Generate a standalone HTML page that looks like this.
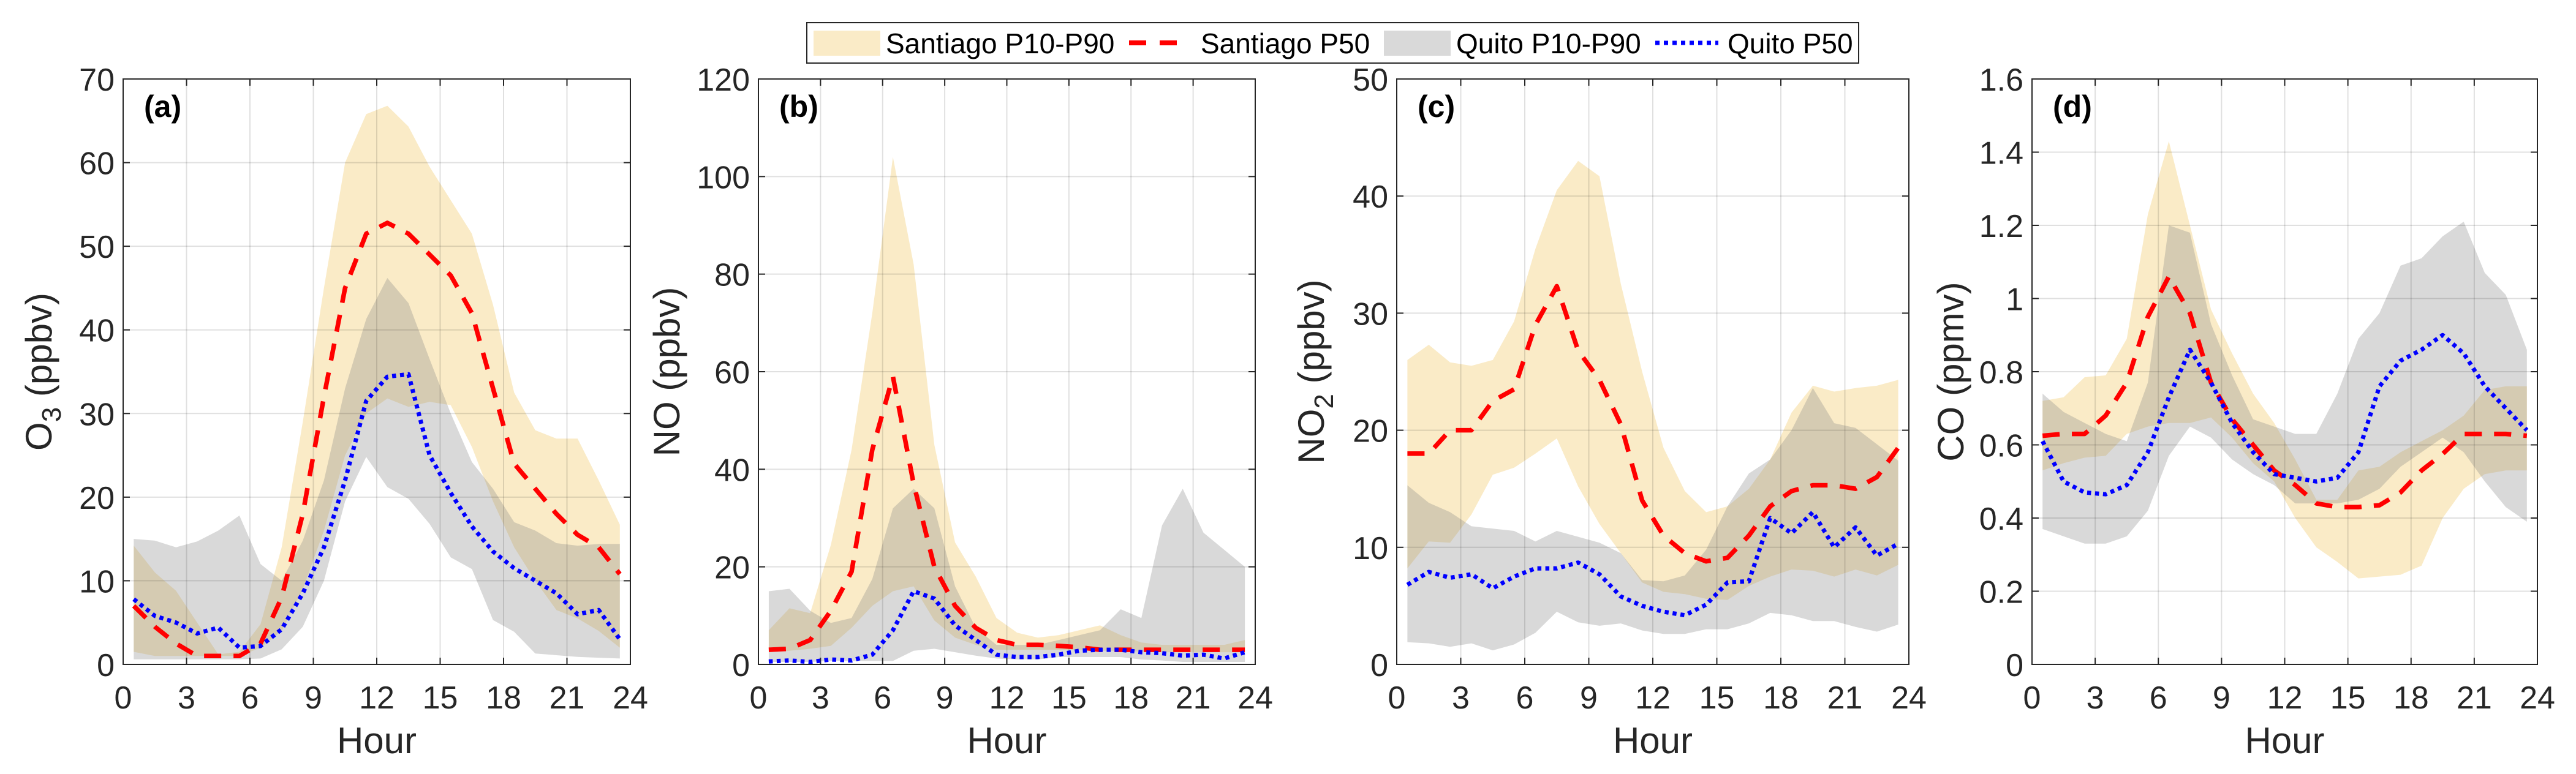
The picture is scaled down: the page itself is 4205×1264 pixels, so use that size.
<!DOCTYPE html>
<html><head><meta charset="utf-8">
<style>
html,body{margin:0;padding:0;background:#fff;}
svg{display:block;font-family:"Liberation Sans",Arial,sans-serif;}
</style></head>
<body>
<svg id="chart" width="4205" height="1264" viewBox="0 0 4205 1264" xmlns="http://www.w3.org/2000/svg">
<rect x="0" y="0" width="4205" height="1264" fill="#ffffff"/>
<g id="legend">
  <rect x="1317" y="37" width="1717" height="66" fill="#fff" stroke="#262626" stroke-width="2"/>
  <g>
    <rect x="1328" y="50" width="109" height="41" fill="#EDB120" fill-opacity="0.25"/>
    <text x="1446" y="87" font-size="46" fill="#000">Santiago P10-P90</text>
  </g>
  <g>
    <line x1="1843" y1="70" x2="1927" y2="70" stroke="#ff0000" stroke-width="8" stroke-dasharray="28,22"/>
    <text x="1960" y="87" font-size="46" fill="#000">Santiago P50</text>
  </g>
  <g>
    <rect x="2259" y="50" width="109" height="41" fill="#808080" fill-opacity="0.3"/>
    <text x="2377" y="87" font-size="46" fill="#000">Quito P10-P90</text>
  </g>
  <g>
    <line x1="2702" y1="70" x2="2805" y2="70" stroke="#0000ff" stroke-width="7" stroke-dasharray="7,7"/>
    <text x="2820" y="87" font-size="46" fill="#000">Quito P50</text>
  </g>
</g>
</svg>
<script>
// Hours (x categories)
const hours = [0.5,1.5,2.5,3.5,4.5,5.5,6.5,7.5,8.5,9.5,10.5,11.5,12.5,13.5,14.5,15.5,16.5,17.5,18.5,19.5,20.5,21.5,22.5,23.5];
const xTicks = [0,3,6,9,12,15,18,21,24];

// Panel (a) O3
const o3SantP90 = [14.2,11,8.8,5,1.2,1.5,4.8,14,29,45,60,65.8,66.8,64.3,59.5,55.5,51.5,43,32.5,28,27,27,22,16.7];
const o3SantP10 = [1.5,1,1,1,1,1,2,4,9,16,25,30,31.8,30.8,31.4,31,26,19.5,14,10,6.5,5.5,4,2];
const o3SantP50 = [7,4.5,2.5,1,1,1,2.5,8,18,32,45,51.5,52.8,51.5,49,46.5,42,33,24,21,18,15.5,14,10.8];
const o3QuitoP90 = [15,14.8,14,14.7,16,17.8,12,10,14.8,22,33,41.3,46.2,43.2,36.5,30,24.2,21,17,16,14.5,14.2,14.4,14.4];
const o3QuitoP10 = [0.6,0.6,0.6,0.6,0.6,0.6,0.7,1.8,4.5,10,19.5,24.8,21.2,19.8,16.8,12.8,11.4,5.3,3.9,1.3,1.1,0.9,0.8,0.7];
const o3QuitoP50 = [7.8,5.8,5,3.7,4.4,2,2.2,4.2,8.5,14,22,31.5,34.4,34.7,25,20.5,16.5,13.5,11.5,10,8.5,6,6.5,3];
const o3YTicks = [0,10,20,30,40,50,60,70];

// Panel (b) NO
const noSantP90 = [7,11.5,10.5,24.5,44,72,104,82,45,25,18,9.5,6.5,5.5,6,7,8,6,4.5,4,4,4,4,5];
const noSantP10 = [2.5,2.8,3.2,3.8,7.5,12,15,16,9,5.5,4,3,3,3,3,3,2.8,2.8,2.6,2.5,2.5,2.5,2.5,2.5];
const noSantP50 = [3,3.2,5,11,19,44,59,37,20,12,7.5,5,4,4,3.8,3.5,3,3,3,3,3,3,3,3];
const noQuitoP90 = [15,15.5,11,8.5,9.5,17.5,32,36,32,16,7.5,4,4,4,5,6,7,11.3,9.5,28.5,36,27,23.5,20];
const noQuitoP10 = [0.5,0.5,0.5,0.7,0.7,0.7,0.7,2.8,3.2,2.5,1.8,1.2,1,1,1.5,1.5,1.5,1.5,1,0.8,0.5,0.5,0.5,0.5];
const noQuitoP50 = [0.6,0.8,0.5,1,0.8,2,7,15,13.5,8,5,2,1.5,1.5,2,2.8,3,3,2.5,2.3,1.8,2,1.2,2.5];
const noYTicks = [0,20,40,60,80,100,120];

// Panel (c) NO2
const no2SantP90 = [26,27.3,25.8,25.5,26,29.3,35.5,40.5,43,41.7,32.5,25,18.5,14.8,13,13.5,15,17.5,21.5,23.8,23.3,23.6,23.8,24.3];
const no2SantP10 = [8.2,10.5,10.4,12.8,16.2,16.8,18,19.3,15.2,12,9.5,7,6.2,6,5.6,5.5,6.7,7.5,8.1,8,7.5,8.1,7.6,8.5];
const no2SantP50 = [18,18,20,20,22.5,23.5,29,32.3,26.8,24.3,20.5,14,11,9.5,8.8,9.1,11,13.5,14.8,15.3,15.3,15,16,18.5];
const no2QuitoP90 = [15.3,13.8,13,11.8,11.6,11.4,10.5,11.4,10.9,10.4,9.5,7.2,7.1,7.6,9.8,13.5,16.3,17.5,20,23.6,20.6,20.2,18.8,17.4];
const no2QuitoP10 = [1.9,1.8,1.5,1.8,1.2,1.7,2.7,4.5,3.6,3.3,3.5,2.9,2.6,2.6,3,3,3.5,4.4,4.2,3.7,3.7,3.2,2.8,3.4];
const no2QuitoP50 = [6.8,7.9,7.4,7.7,6.5,7.5,8.2,8.2,8.7,7.7,5.8,5,4.5,4.2,5.1,7,7.1,12.5,11.2,13,10,11.7,9.3,10.3];
const no2YTicks = [0,10,20,30,40,50];

// Panel (d) CO
const coSantP90 = [0.72,0.73,0.785,0.79,0.89,1.23,1.43,1.2,0.97,0.85,0.74,0.66,0.56,0.45,0.45,0.53,0.54,0.58,0.61,0.64,0.68,0.75,0.76,0.76];
const coSantP10 = [0.53,0.55,0.565,0.57,0.63,0.65,0.66,0.66,0.675,0.62,0.55,0.5,0.4,0.32,0.28,0.235,0.24,0.245,0.27,0.4,0.48,0.52,0.53,0.53];
const coSantP50 = [0.625,0.63,0.63,0.68,0.77,0.95,1.06,0.96,0.77,0.67,0.6,0.53,0.49,0.44,0.43,0.43,0.435,0.47,0.53,0.575,0.63,0.63,0.63,0.625];
const coQuitoP90 = [0.74,0.69,0.66,0.63,0.61,0.77,1.2,1.18,0.93,0.79,0.67,0.65,0.63,0.63,0.74,0.89,0.96,1.09,1.11,1.17,1.21,1.07,1.01,0.86];
const coQuitoP10 = [0.37,0.35,0.33,0.33,0.35,0.42,0.57,0.65,0.62,0.56,0.52,0.49,0.44,0.44,0.44,0.45,0.48,0.54,0.58,0.62,0.58,0.5,0.43,0.39];
const coQuitoP50 = [0.61,0.5,0.47,0.465,0.49,0.58,0.73,0.86,0.77,0.66,0.58,0.52,0.51,0.5,0.51,0.58,0.76,0.83,0.86,0.9,0.85,0.76,0.7,0.64];
const coYTicks = [0,0.2,0.4,0.6,0.8,1,1.2,1.4,1.6];

const NS = "http://www.w3.org/2000/svg";
const svg = document.getElementById('chart');
function mk(tag, attrs, parent){
  const e = document.createElementNS(NS, tag);
  for (const k in attrs) e.setAttribute(k, attrs[k]);
  parent.appendChild(e);
  return e;
}

const panels = [
  {id:'a', left:201, right:1029, ymax:70, yTicks:o3YTicks, labelOff:138, label:['O','3',' (ppbv)'],
   sp90:o3SantP90, sp10:o3SantP10, sp50:o3SantP50, qp90:o3QuitoP90, qp10:o3QuitoP10, qp50:o3QuitoP50},
  {id:'b', left:1238, right:2049, ymax:120, yTicks:noYTicks, labelOff:150, label:['NO','',' (ppbv)'],
   sp90:noSantP90, sp10:noSantP10, sp50:noSantP50, qp90:noQuitoP90, qp10:noQuitoP10, qp50:noQuitoP50},
  {id:'c', left:2280, right:3116, ymax:50, yTicks:no2YTicks, labelOff:140, label:['NO','2',' (ppbv)'],
   sp90:no2SantP90, sp10:no2SantP10, sp50:no2SantP50, qp90:no2QuitoP90, qp10:no2QuitoP10, qp50:no2QuitoP50},
  {id:'d', left:3317, right:4142, ymax:1.6, yTicks:coYTicks, labelOff:133, label:['CO','',' (ppmv)'],
   sp90:coSantP90, sp10:coSantP10, sp50:coSantP50, qp90:coQuitoP90, qp10:coQuitoP10, qp50:coQuitoP50}
];
const TOP = 129, BOTTOM = 1085;

panels.forEach(p => {
  const g = mk('g', {}, svg);
  
  
  const xs = h => p.left + (h / 24) * (p.right - p.left);
  const ys = v => BOTTOM - (v / p.ymax) * (BOTTOM - TOP);

  function band(hi, lo, color, op, name){
    let d = '';
    hours.forEach((h,i) => { d += (i ? 'L' : 'M') + xs(h).toFixed(1) + ',' + ys(hi[i]).toFixed(1); });
    for (let i = hours.length - 1; i >= 0; i--) d += 'L' + xs(hours[i]).toFixed(1) + ',' + ys(lo[i]).toFixed(1);
    const e = mk('path', {d: d + 'Z', fill: color, 'fill-opacity': op, stroke: 'none'}, g);
    
    
  }
  function line(vals, color, dash, w, name){
    const pts = hours.map((h,i) => xs(h).toFixed(1) + ',' + ys(vals[i]).toFixed(1)).join(' ');
    const e = mk('polyline', {points: pts, fill: 'none', stroke: color, 'stroke-width': w, 'stroke-dasharray': dash, 'stroke-linejoin': 'round'}, g);
    
    
  }
  band(p.sp90, p.sp10, '#EDB120', 0.25, 'santiago-band-' + p.id);
  band(p.qp90, p.qp10, '#808080', 0.3, 'quito-band-' + p.id);

  xTicks.forEach(t => {
    const x = xs(t);
    mk('line', {x1:x, y1:TOP, x2:x, y2:BOTTOM, stroke:'#000', 'stroke-opacity':0.12, 'stroke-width':2}, g);
    mk('line', {x1:x, y1:BOTTOM, x2:x, y2:BOTTOM-11, stroke:'#262626', 'stroke-width':2}, g);
    mk('line', {x1:x, y1:TOP, x2:x, y2:TOP+11, stroke:'#262626', 'stroke-width':2}, g);
    const tl = mk('text', {x:x, y:1157, 'font-size':52, fill:'#262626', 'text-anchor':'middle'}, g);
    tl.textContent = t;
    
    
  });
  p.yTicks.forEach(t => {
    const y = ys(t);
    mk('line', {x1:p.left, y1:y, x2:p.right, y2:y, stroke:'#000', 'stroke-opacity':0.12, 'stroke-width':2}, g);
    mk('line', {x1:p.left, y1:y, x2:p.left+11, y2:y, stroke:'#262626', 'stroke-width':2}, g);
    mk('line', {x1:p.right, y1:y, x2:p.right-11, y2:y, stroke:'#262626', 'stroke-width':2}, g);
    const tl = mk('text', {x:p.left-14, y:y+19, 'font-size':52, fill:'#262626', 'text-anchor':'end'}, g);
    tl.textContent = t;
    
    
  });

  line(p.sp50, '#ff0000', '28,20', 7.5, 'santiago-p50-line-' + p.id);
  line(p.qp50, '#0000ff', '6.5,6.5', 7, 'quito-p50-line-' + p.id);

  const box = mk('rect', {x:p.left, y:TOP, width:p.right-p.left, height:BOTTOM-TOP, fill:'none', stroke:'#262626', 'stroke-width':2}, g);
  
  

  const pl = mk('text', {x:p.left+34, y:191, 'font-size':50, 'font-weight':'bold', fill:'#000'}, g);
  pl.textContent = '(' + p.id + ')';
  
  

  const xl = mk('text', {x:(p.left+p.right)/2, y:1230, 'font-size':60, fill:'#262626', 'text-anchor':'middle'}, g);
  xl.textContent = 'Hour';
  
  

  const cx = p.left - p.labelOff, cy = (TOP + BOTTOM) / 2;
  const yl = mk('text', {x:cx, y:cy, 'font-size':60, fill:'#262626', 'text-anchor':'middle', transform:'rotate(-90 ' + cx + ' ' + cy + ')', dy:'21'}, g);
  
  
  const s1 = mk('tspan', {}, yl); s1.textContent = p.label[0];
  if (p.label[1]) { const s2 = mk('tspan', {dy:'15', 'font-size':44}, yl); s2.textContent = p.label[1]; const s3 = mk('tspan', {dy:'-15'}, yl); s3.textContent = p.label[2]; }
  else { const s3 = mk('tspan', {}, yl); s3.textContent = p.label[2]; }
});
</script>
</body></html>
